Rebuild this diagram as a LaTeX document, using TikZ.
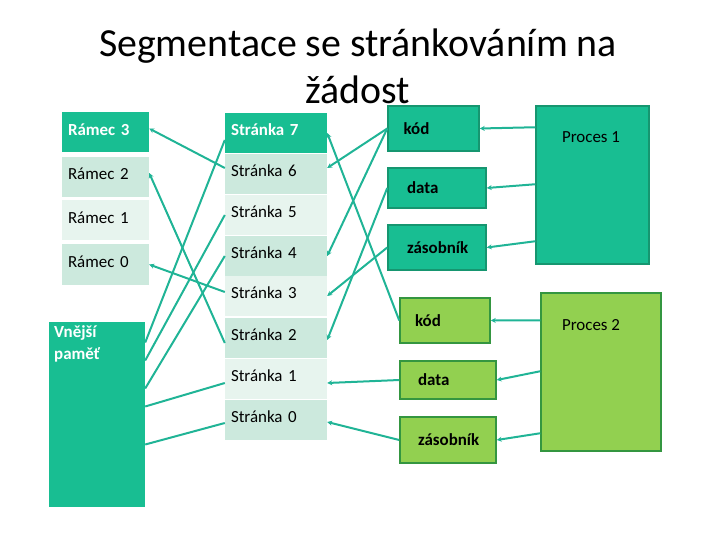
\documentclass[tikz,border=0pt]{standalone}
\usepackage{fontspec}
\setmainfont{Carlito}
\usepackage{tikz}
\usetikzlibrary{arrows.meta}
\definecolor{tealdk}{RGB}{24,190,146}
\definecolor{tealbd}{RGB}{22,150,112}
\definecolor{cellmid}{RGB}{204,233,221}
\definecolor{celllt}{RGB}{231,244,238}
\definecolor{limefill}{RGB}{146,208,80}
\definecolor{limebd}{RGB}{52,150,64}
\definecolor{wire}{RGB}{32,180,150}
\tikzset{
  cell/.style={fill=cellmid, minimum height=40bp, inner xsep=6bp, align=left,
               font=\fontsize{17}{20}\selectfont, text depth=6bp},
  rcell/.style={cell, text width=75bp},
  scell/.style={cell, text width=90bp},
  hd/.style={fill=tealdk, text=white, font=\bfseries\fontsize{17}{20}\selectfont},
  seg/.style={draw, line width=1.5bp, text width=60bp, inner xsep=14bp, align=left,
              minimum height=45bp, font=\bfseries\fontsize{17}{20}\selectfont},
  seg1/.style={seg, fill=tealdk, draw=tealbd},
  seg2/.style={seg, fill=limefill, draw=limebd},
  lab/.style={font=\fontsize{17}{20}\selectfont, inner sep=1pt},
  sig/.style={-{Stealth[length=5pt,width=5pt]}, line width=2bp, draw=wire},
  lnk/.style={line width=2bp, draw=wire},
}
\begin{document}
\begin{tikzpicture}[x=1bp, y=-1bp]
  \useasboundingbox (0,0) rectangle (720,540);
  \node[align=center, font=\fontsize{40}{47}\selectfont] (title) at (358,66)
    {Segmentace se stránkováním na\\ žádost};
  % frames
  \node[rcell, hd] (r3) at (105.5,132.5) {Rámec 3};
  \node[rcell] (r2) at (105.5,177) {Rámec 2};
  \node[rcell, fill=celllt] (r1) at (105.5,220.5) {Rámec 1};
  \node[rcell] (r0) at (105.5,264.5) {Rámec 0};
  % pages
  \node[scell, hd] (s7) at (276,133) {Stránka 7};
  \node[scell] (s6) at (276,174) {Stránka 6};
  \node[scell, fill=celllt] (s5) at (276,215) {Stránka 5};
  \node[scell] (s4) at (276,256) {Stránka 4};
  \node[scell, fill=celllt] (s3) at (276,296) {Stránka 3};
  \node[scell] (s2) at (276,338) {Stránka 2};
  \node[scell, fill=celllt] (s1) at (276,379) {Stránka 1};
  \node[scell] (s0) at (276,420) {Stránka 0};
  \node[fill=tealdk, minimum width=96bp, minimum height=185bp] (vp) at (97,414.5) {};
  \node[anchor=north west, align=left, text=white, inner sep=0pt,
        font=\bfseries\fontsize{17}{22}\selectfont] (vplab) at (54,325) {Vnější\\ paměť};
  % process 1
  \node[seg1, minimum width=91bp] (k1) at (433.5,128.5) {kód};
  \node[seg1, minimum width=98bp, minimum height=40bp] (d1) at (437,188) {data};
  \node[seg1, minimum width=98bp] (z1) at (437,247.5) {zásobník};
  \node[draw=tealbd, fill=tealdk, line width=1.5bp, minimum width=113bp, minimum height=158bp] (p1) at (592.5,185) {};
  \node[lab] (p1lab) at (591,137) {Proces 1};
  % process 2
  \node[seg2, minimum width=90bp] (k2) at (445,320.5) {kód};
  \node[seg2, minimum width=96bp, minimum height=38bp] (d2) at (448,380) {data};
  \node[seg2, minimum width=96bp, minimum height=46bp] (z2) at (448,440) {zásobník};
  \node[draw=limebd, fill=limefill, line width=1.5bp, minimum width=120bp, minimum height=158bp] (p2) at (601,372) {};
  \node[lab] (p2lab) at (591,325) {Proces 2};
  % processes -> segments
  \draw[sig] ([yshift=-22bp]p1.north west) -- (k1.east);
  \draw[sig] ([yshift=-79bp]p1.north west) -- (d1.east);
  \draw[sig] ([yshift=-136bp]p1.north west) -- (z1.east);
  \draw[sig] ([yshift=-28bp]p2.north west) -- (k2.east);
  \draw[sig] ([yshift=-79bp]p2.north west) -- (d2.east);
  \draw[sig] ([yshift=-141bp]p2.north west) -- (z2.east);
  % segments -> pages
  \draw[sig] (k1.west) -- ([yshift=6bp]s6.east);
  \draw[sig] (k1.west) -- (s4.east);
  \draw[sig] (d1.west) -- ([yshift=-2bp]s2.east);
  \draw[sig] (z1.west) -- (s3.east);
  \draw[sig] (k2.west) -- (s7.east);
  \draw[sig] (d2.west) -- ([yshift=-4bp]s1.east);
  \draw[sig] (z2.west) -- ([yshift=-2bp]s0.east);
  % pages -> frames
  \draw[sig] ([yshift=6bp]s6.west) -- ([yshift=4bp]r3.east);
  \draw[sig] ([yshift=-5bp]s2.west) -- ([yshift=4bp]r2.east);
  \draw[sig] ([yshift=4bp]s3.west) -- (r0.east);
  % pages -> outer memory
  \draw[lnk] ([yshift=-7bp]s7.west) -- ([yshift=72bp]vp.east);
  \draw[lnk] (s5.west) -- ([yshift=54bp]vp.east);
  \draw[lnk] (s4.west) -- ([yshift=26bp]vp.east);
  \draw[lnk] ([yshift=-4bp]s1.west) -- ([yshift=8bp]vp.east);
  \draw[lnk] ([yshift=-3bp]s0.west) -- ([yshift=-30bp]vp.east);
\end{tikzpicture}
\end{document}
